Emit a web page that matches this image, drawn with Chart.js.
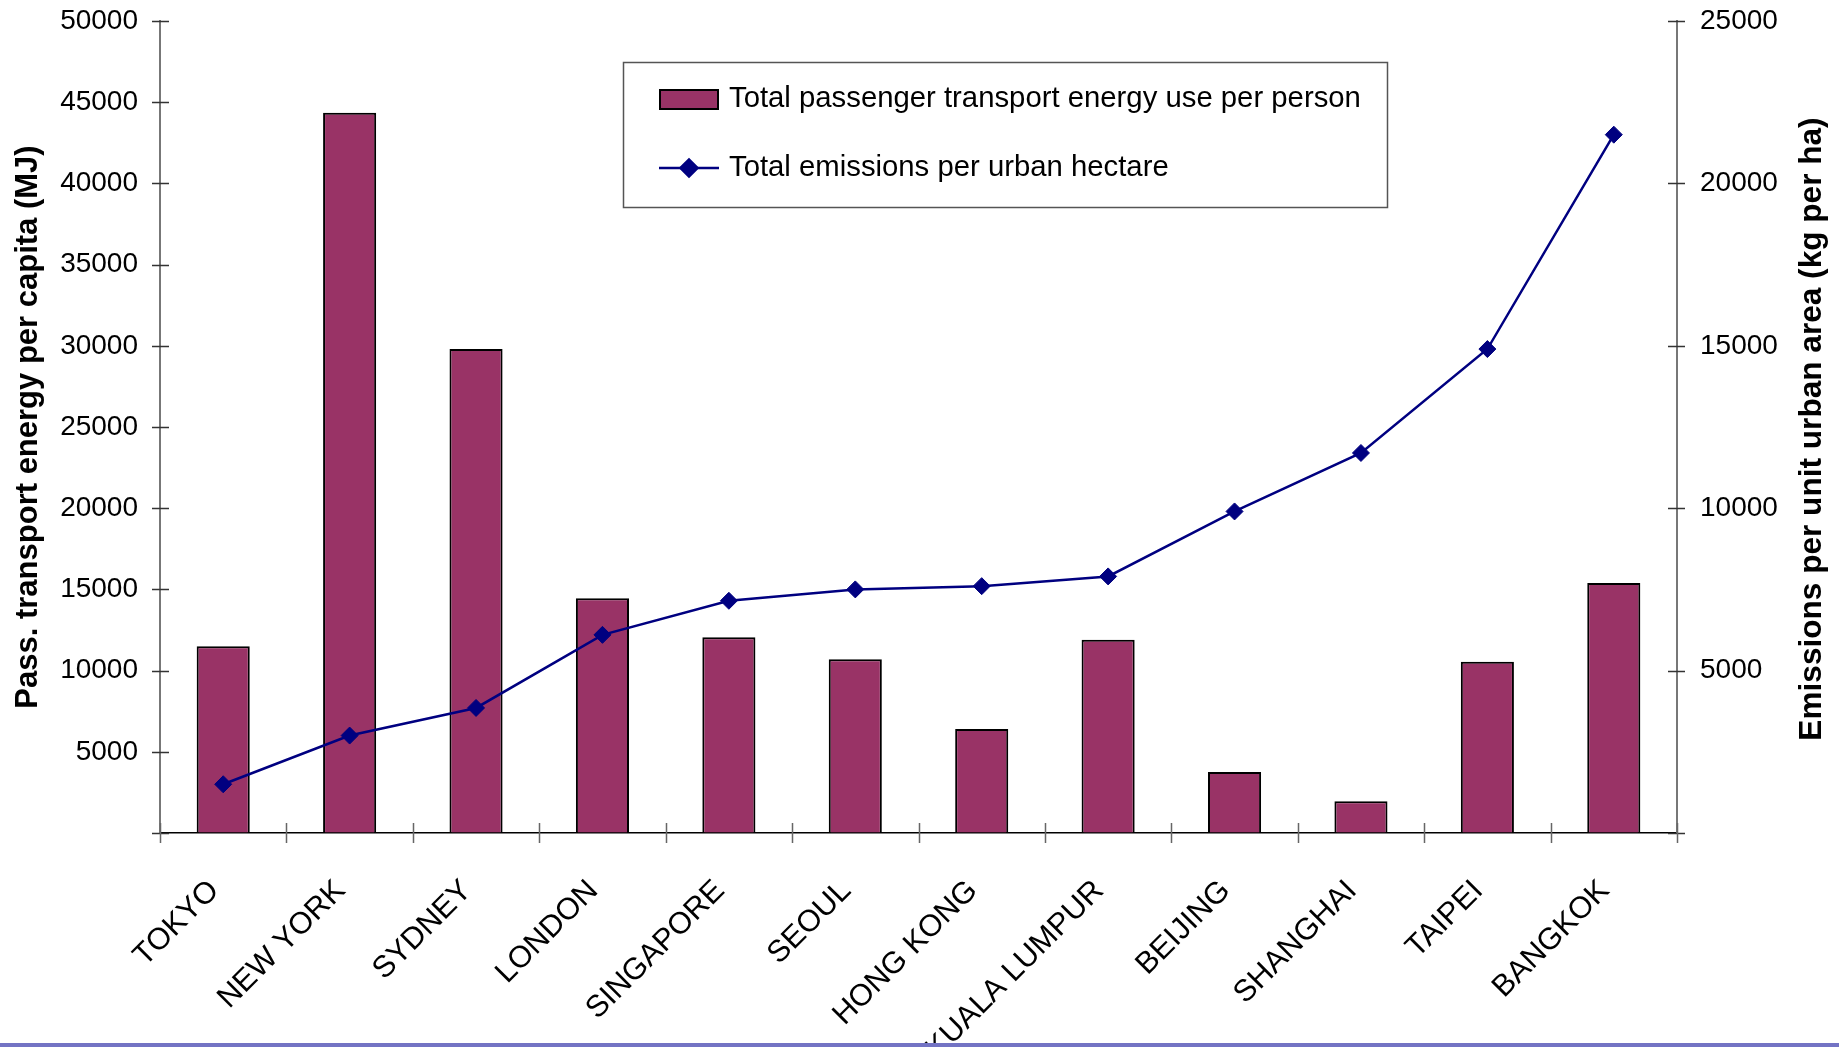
<!DOCTYPE html>
<html>
<head>
<meta charset="utf-8">
<title>Passenger transport energy and emissions by city</title>
<script src="https://cdn.jsdelivr.net/npm/chart.js@4.4.1/dist/chart.umd.min.js"></script>
<style>
  html, body { margin: 0; padding: 0; background: #ffffff; }
  #wrap { position: relative; width: 1839px; height: 1047px; }
  canvas { display: block; }
</style>
</head>
<body>
<div id="wrap"><canvas id="chart" width="1839" height="1047"></canvas></div>
<script>
// Cities along the category axis
const categories = ['TOKYO', 'NEW YORK', 'SYDNEY', 'LONDON', 'SINGAPORE', 'SEOUL',
  'HONG KONG', 'KUALA LUMPUR', 'BEIJING', 'SHANGHAI', 'TAIPEI', 'BANGKOK'];

// Total passenger transport energy use per person (MJ per capita) - bars, left axis
const energyPerPerson = [11500, 44350, 29800, 14450, 12050, 10700, 6400, 11900, 3750, 1950, 10550, 15400];

// Total emissions per urban hectare (kg per ha) - line, right axis
const emissionsPerHectare = [1500, 3000, 3850, 6100, 7150, 7500, 7600, 7900, 9900, 11700, 14900, 21500];

// Axis tick values
const energyTicks = [0, 5000, 10000, 15000, 20000, 25000, 30000, 35000, 40000, 45000, 50000];
const emissionTicks = [0, 5000, 10000, 15000, 20000, 25000];

// Series names and axis titles
const barLabel = 'Total passenger transport energy use per person';
const lineLabel = 'Total emissions per urban hectare';
const leftTitle = 'Pass. transport energy per capita (MJ)';
const rightTitle = 'Emissions per unit urban area (kg per ha)';

const FONT = '"Liberation Sans", Arial, Helvetica, sans-serif';
const BAR_FILL = '#993366';
const LINE_COLOR = '#000080';

// Excel-style crossing tick marks, the right-hand axis title, the legend box
// and the rule along the bottom of the slide.
const decorations = {
  id: 'decorations',
  afterDraw(chart) {
    const ctx = chart.ctx;
    const x = chart.scales.x, yL = chart.scales.y, yR = chart.scales.y1;
    const area = chart.chartArea;
    ctx.save();

    // tick marks crossing the value axes
    ctx.strokeStyle = '#333';
    ctx.lineWidth = 1.5;
    ctx.beginPath();
    energyTicks.forEach(v => {
      const py = Math.round(yL.getPixelForValue(v)) + 0.5;
      ctx.moveTo(area.left - 8, py); ctx.lineTo(area.left + 9, py);
    });
    emissionTicks.forEach(v => {
      const py = Math.round(yR.getPixelForValue(v)) + 0.5;
      ctx.moveTo(area.right - 9, py); ctx.lineTo(area.right + 8, py);
    });
    ctx.stroke();

    // tick marks crossing the category axis, between categories
    ctx.strokeStyle = '#666';
    ctx.beginPath();
    const step = (area.right - area.left) / categories.length;
    for (let i = 0; i <= categories.length; i++) {
      const px = Math.round(x.getPixelForValue(0) - step / 2 + i * step) + 0.5;
      ctx.moveTo(px, area.bottom - 10); ctx.lineTo(px, area.bottom + 10);
    }
    ctx.stroke();

    // right axis title, reading bottom to top
    ctx.fillStyle = '#000';
    ctx.font = 'bold 31.6px ' + FONT;
    ctx.textAlign = 'center';
    ctx.textBaseline = 'middle';
    ctx.translate(1812, (area.top + area.bottom) / 2 + 2);
    ctx.rotate(-Math.PI / 2);
    ctx.fillText(rightTitle, 0, 0);
    ctx.setTransform(1, 0, 0, 1, 0, 0);

    // legend
    ctx.fillStyle = '#fff';
    ctx.fillRect(623.5, 62.5, 764, 145);
    ctx.strokeStyle = '#555';
    ctx.lineWidth = 1.5;
    ctx.strokeRect(623.5, 62.5, 764, 145);

    ctx.fillStyle = BAR_FILL;
    ctx.fillRect(660, 90, 58, 19);
    ctx.strokeStyle = '#000';
    ctx.lineWidth = 2;
    ctx.strokeRect(660, 90, 58, 19);

    ctx.strokeStyle = LINE_COLOR;
    ctx.lineWidth = 2.5;
    ctx.beginPath();
    ctx.moveTo(659, 168); ctx.lineTo(719, 168);
    ctx.stroke();
    ctx.fillStyle = LINE_COLOR;
    Chart.helpers.drawPoint(ctx, { pointStyle: 'rectRot', radius: 8.5, borderWidth: 1 }, 689, 168);

    ctx.fillStyle = '#000';
    ctx.font = '29.3px ' + FONT;
    ctx.textAlign = 'left';
    ctx.textBaseline = 'alphabetic';
    ctx.fillText(barLabel, 729, 107);
    ctx.fillText(lineLabel, 729, 176);

    // bottom rule
    ctx.fillStyle = '#7373c4';
    ctx.fillRect(0, 1043, chart.width, 4);

    ctx.restore();
  }
};

const tickNumber = v => (v === 0 ? '' : String(v));

// value axes: fixed width, and no extra room reserved above the top tick label
const fitValueAxis = width => scale => {
  scale.width = width;
  scale.paddingTop = 0;
  scale.paddingBottom = 0;
};

new Chart(document.getElementById('chart'), {
  data: {
    labels: categories,
    datasets: [
      {
        type: 'line',
        label: lineLabel,
        data: emissionsPerHectare,
        yAxisID: 'y1',
        order: 0,
        borderColor: LINE_COLOR,
        borderWidth: 2.5,
        tension: 0,
        pointStyle: 'rectRot',
        pointRadius: 8.5,
        pointBorderWidth: 1,
        pointBackgroundColor: LINE_COLOR,
        pointBorderColor: LINE_COLOR
      },
      {
        type: 'bar',
        label: barLabel,
        data: energyPerPerson,
        yAxisID: 'y',
        order: 1,
        backgroundColor: BAR_FILL,
        borderColor: '#000',
        borderWidth: 2,
        barPercentage: 0.42,
        categoryPercentage: 1
      }
    ]
  },
  options: {
    responsive: false,
    animation: false,
    devicePixelRatio: 1,
    events: [],
    layout: { padding: { top: 21, left: 0, right: 0, bottom: 0 } },
    plugins: {
      legend: { display: false },
      tooltip: { enabled: false }
    },
    scales: {
      x: {
        type: 'category',
        offset: true,
        grid: { display: true, drawOnChartArea: false, drawTicks: false, color: 'rgba(0,0,0,0)' },
        border: { display: true, color: '#000', width: 1.5 },
        ticks: {
          autoSkip: false,
          maxRotation: 45,
          minRotation: 45,
          padding: 40,
          labelOffset: -9,
          color: '#000',
          font: { family: FONT, size: 30.5 }
        },
        afterFit(scale) { scale.height = 214; }
      },
      y: {
        type: 'linear',
        position: 'left',
        min: 0,
        max: 50000,
        afterBuildTicks(scale) { scale.ticks = energyTicks.map(v => ({ value: v })); },
        grid: { display: true, drawOnChartArea: false, drawTicks: false, color: 'rgba(0,0,0,0)' },
        border: { display: true, color: '#777', width: 2 },
        ticks: {
          padding: 22,
          color: '#000',
          font: { family: FONT, size: 28 },
          callback: tickNumber
        },
        title: {
          display: true,
          text: leftTitle,
          color: '#000',
          font: { family: FONT, size: 31, weight: 'bold' },
          padding: { top: 10, bottom: 0 }
        },
        afterFit: fitValueAxis(160)
      },
      y1: {
        type: 'linear',
        position: 'right',
        min: 0,
        max: 25000,
        afterBuildTicks(scale) { scale.ticks = emissionTicks.map(v => ({ value: v })); },
        grid: { display: true, drawOnChartArea: false, drawTicks: false, color: 'rgba(0,0,0,0)' },
        border: { display: true, color: '#777', width: 2 },
        ticks: {
          padding: 23,
          color: '#000',
          font: { family: FONT, size: 28 },
          callback: tickNumber
        },
        afterFit: fitValueAxis(162)
      }
    }
  },
  plugins: [decorations]
});
</script>
</body>
</html>
